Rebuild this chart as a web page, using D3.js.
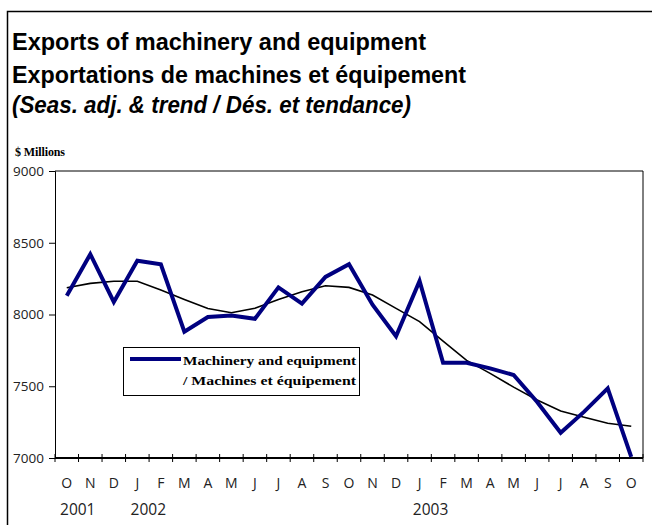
<!DOCTYPE html>
<html><head><meta charset="utf-8">
<script src="https://cdn.jsdelivr.net/npm/d3@7"></script>
<style>html,body{margin:0;padding:0;background:#fff;}svg{display:block;}</style>
</head><body>
<svg id="chart" width="652" height="525"></svg>
<script>
const months = ["O","N","D","J","F","M","A","M","J","J","A","S","O","N","D","J","F","M","A","M","J","J","A","S","O"];
const yearLabels = ["2001","2002","2003"];
const yearIndex = [0, 3, 15];
const seasAdj = [8130,8420,8088,8375,8350,7880,7982,7993,7970,8189,8076,8262,8350,8068,7848,8234,7664,7664,7625,7578,7390,7176,7323,7485,7008];
const trend = [8187,8217,8232,8232,8170,8104,8042,8012,8043,8105,8158,8200,8189,8136,8043,7950,7815,7680,7590,7494,7404,7328,7284,7242,7221];
const yTicks = [7000,7500,8000,8500,9000];
const titles = ["Exports of machinery and equipment","Exportations de machines et équipement","(Seas. adj. & trend / Dés. et tendance)"];
const legendLines = ["Machinery and equipment","/ Machines et équipement"];

const svg = d3.select("#chart");
const L = 55, R = 643, T = 171, B = 458;
const idx = d3.range(months.length);
const x = d3.scaleBand().domain(idx).range([L, R]).padding(0);
const y = d3.scaleLinear().domain([7000, 9000]).range([B, T]);
const cx = i => x(i) + x.bandwidth() / 2;
const axFont = "'Open Sans', Verdana, sans-serif";

// outer border
svg.append("rect").attr("x", 7.5).attr("y", 11.5).attr("width", 700).attr("height", 600)
  .attr("fill", "none").attr("stroke", "#000").attr("stroke-width", 1.5);

// titles
const tfont = "'Liberation Sans', Arial, sans-serif";
svg.append("text").attr("x", 12).attr("y", 50).attr("font-family", tfont).attr("font-weight", "bold")
  .attr("font-size", 23).attr("textLength", 414).attr("lengthAdjust", "spacingAndGlyphs").text(titles[0]);
svg.append("text").attr("x", 12).attr("y", 83).attr("font-family", tfont).attr("font-weight", "bold")
  .attr("font-size", 23).attr("textLength", 454).attr("lengthAdjust", "spacingAndGlyphs").text(titles[1]);
svg.append("text").attr("x", 12).attr("y", 113).attr("font-family", tfont).attr("font-weight", "bold")
  .attr("font-style", "italic").attr("font-size", 23).attr("textLength", 399).attr("lengthAdjust", "spacingAndGlyphs").text(titles[2]);

svg.append("text").attr("x", 15).attr("y", 156).attr("font-family", "'Liberation Serif', serif")
  .attr("font-weight", "bold").attr("font-size", 12).attr("textLength", 50).text("$ Millions");

// plot frame
svg.append("path").attr("d", `M${L},${T}H${R}V${B}`).attr("fill", "none").attr("stroke", "#000").attr("stroke-width", 1);

// y axis
const yAxis = d3.axisLeft(y).tickValues(yTicks).tickSize(6).tickPadding(5).tickFormat(d3.format("d"));
const gy = svg.append("g").attr("transform", `translate(${L},0)`).call(yAxis);
gy.select(".domain").attr("stroke", "#000");
gy.selectAll("text").attr("font-family", axFont).attr("font-size", 13.5).attr("fill", "#222");

// x axis: ticks between categories
const gx = svg.append("g");
gx.append("line").attr("x1", L).attr("x2", R).attr("y1", B).attr("y2", B).attr("stroke", "#000").attr("stroke-width", 2.2);
const bounds = d3.range(months.length + 1).map(k => k < months.length ? x(k) : R);
gx.selectAll("line.tk").data(bounds).join("line").attr("class", "tk")
  .attr("x1", d => d).attr("x2", d => d).attr("y1", B - 4).attr("y2", B + 4).attr("stroke", "#000").attr("stroke-width", 1);
gx.selectAll("text.m").data(idx).join("text").attr("class", "m")
  .attr("x", d => cx(d)).attr("y", 488).attr("text-anchor", "middle")
  .attr("font-family", axFont).attr("font-size", 14).attr("fill", "#222")
  .text(d => months[d]);
gx.selectAll("text.yr").data(yearLabels).join("text").attr("class", "yr")
  .attr("x", (d, i) => cx(yearIndex[i]) + 11).attr("y", 515).attr("text-anchor", "middle")
  .attr("font-family", axFont).attr("font-size", 15.5).attr("fill", "#222")
  .text(d => d);

// lines
const line = d3.line().x((d, i) => cx(i)).y(d => y(d));
svg.append("path").datum(trend).attr("d", line).attr("fill", "none").attr("stroke", "#000").attr("stroke-width", 1.6);
svg.append("path").datum(seasAdj).attr("d", line).attr("fill", "none").attr("stroke", "#000080")
  .attr("stroke-width", 4).attr("stroke-linejoin", "miter");

// legend
const lg = svg.append("g");
lg.append("rect").attr("x", 123.5).attr("y", 347.5).attr("width", 236).attr("height", 48)
  .attr("fill", "#fff").attr("stroke", "#000").attr("stroke-width", 1);
lg.append("line").attr("x1", 130).attr("x2", 181).attr("y1", 359).attr("y2", 359).attr("stroke", "#000080").attr("stroke-width", 4);
lg.selectAll("text").data(legendLines).join("text")
  .attr("x", 183).attr("y", (d, i) => 365 + i * 20)
  .attr("font-family", "'Liberation Serif', serif").attr("font-weight", "bold").attr("font-size", 13.5)
  .attr("textLength", 173).attr("lengthAdjust", "spacingAndGlyphs").text(d => d);
</script>
</body></html>
